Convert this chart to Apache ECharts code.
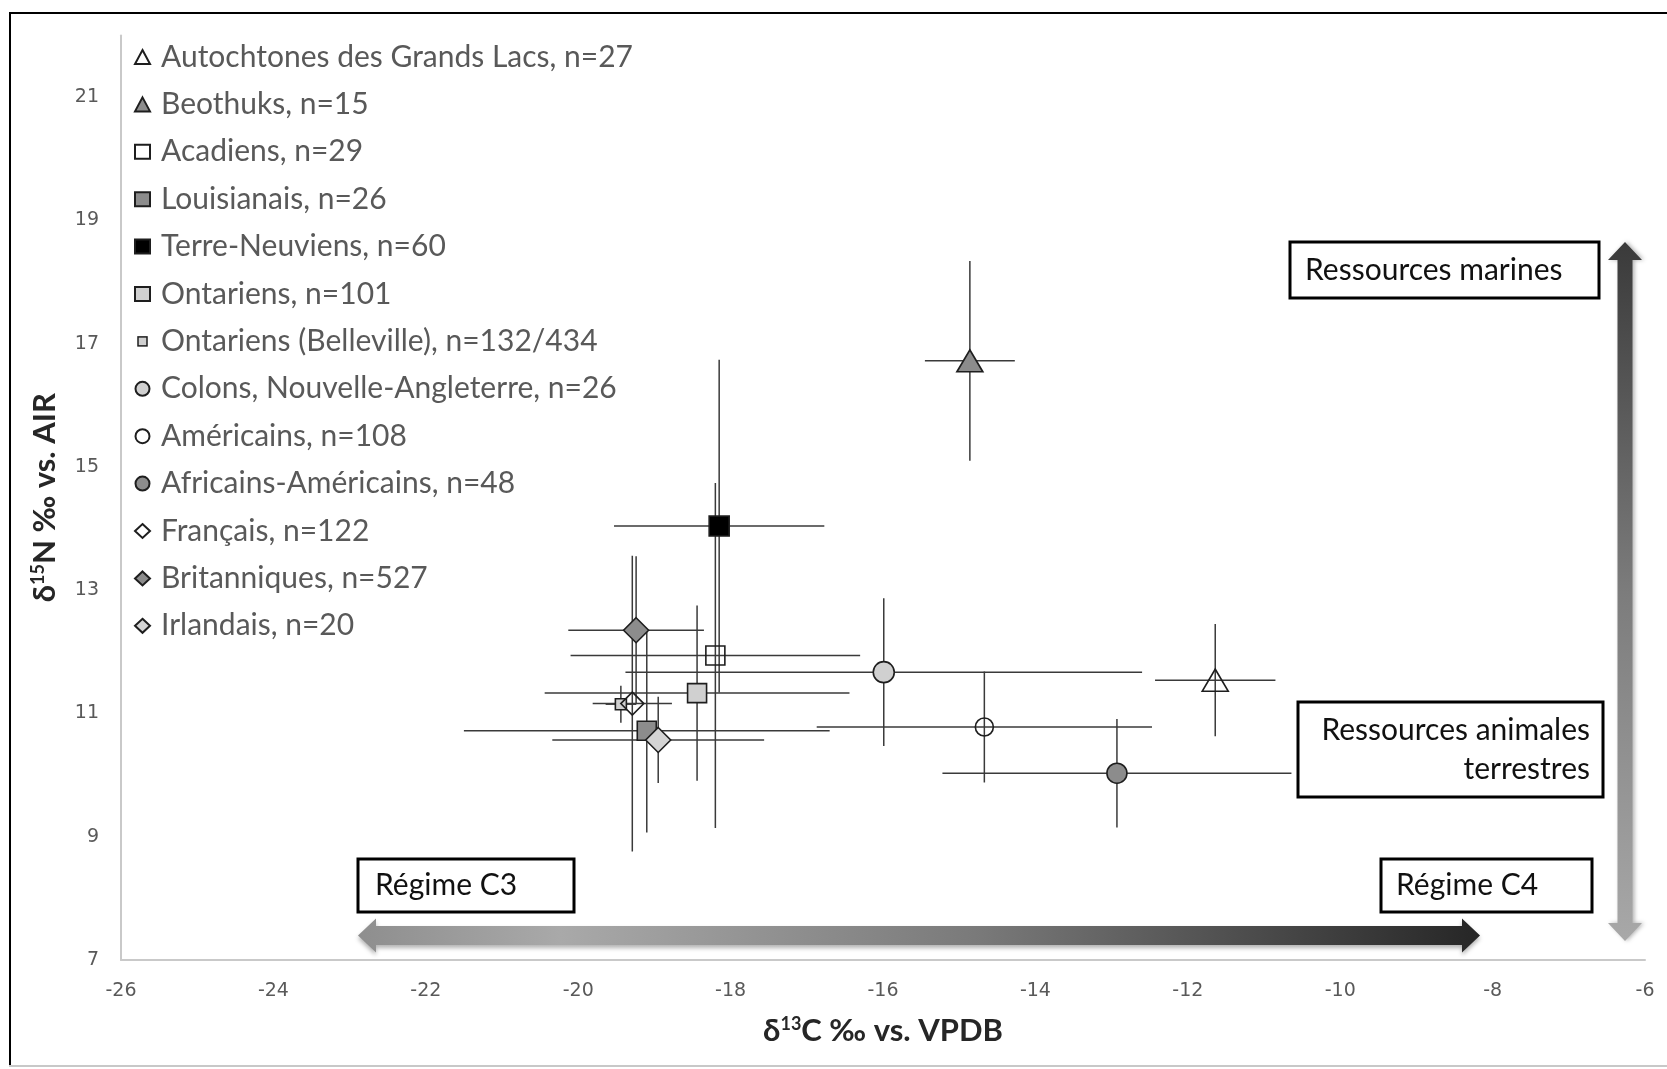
<!DOCTYPE html>
<html>
<head>
<meta charset="utf-8">
<script src="https://cdn.jsdelivr.net/npm/echarts@6/dist/echarts.min.js"></script>
<style>
  html, body { margin: 0; padding: 0; background: #fff; }
  #chart { width: 1667px; height: 1069px; }
</style>
</head>
<body>
<div id="chart"></div>
<script>
// Population groups (legend order)
const groups = [
  'Autochtones des Grands Lacs, n=27',
  'Beothuks, n=15',
  'Acadiens, n=29',
  'Louisianais, n=26',
  'Terre-Neuviens, n=60',
  'Ontariens, n=101',
  'Ontariens (Belleville), n=132/434',
  'Colons, Nouvelle-Angleterre, n=26',
  'Américains, n=108',
  'Africains-Américains, n=48',
  'Français, n=122',
  'Britanniques, n=527',
  'Irlandais, n=20'
];
// Mean δ13C (‰ vs. VPDB) and δ15N (‰ vs. AIR)
const d13C = [-11.64, -14.86, -18.20, -19.10, -18.15, -18.44, -19.44, -15.99, -14.67, -12.93, -19.29, -19.24, -18.95];
const d15N = [11.54, 16.72, 11.94, 10.72, 14.04, 11.33, 11.15, 11.67, 10.78, 10.03, 11.16, 12.35, 10.57];
// Standard deviations
const sdC = [0.79, 0.59, 1.90, 2.40, 1.38, 2.00, 0.20, 3.39, 2.20, 2.29, 0.52, 0.89, 1.39];
const sdN = [0.91, 1.62, 2.80, 1.65, 2.70, 1.42, 0.30, 1.20, 0.90, 0.88, 2.40, 1.20, 0.70];

// Axis ticks
const xTicks = { min: -26, max: -6, interval: 2 };
const yTicks = { min: 7, max: 22, interval: 2 };

// Marker look per group
const symbols = ['triangle', 'triangle', 'rect', 'rect', 'rect', 'rect', 'rect', 'circle', 'circle', 'circle', 'diamond', 'diamond', 'diamond'];
const sizes = [[26, 22], [26, 22], 19, 19, 20, 19, 11, 21, 18, 20, 23, 25, 25];
const NONE = 'rgba(255,255,255,0)';
const fills = [NONE, '#8c8c8c', NONE, '#8c8c8c', '#000000', '#d0d0d0', '#d0d0d0', '#d0d0d0', NONE, '#8c8c8c', NONE, '#8c8c8c', '#d4d4d4'];
const EDGE = '#1e1e1e';

const chart = echarts.init(document.getElementById('chart'), null, { renderer: 'canvas' });

const FONT = 'Lato';

const errorData = groups.map((g, i) => [d13C[i], d15N[i], sdC[i], sdN[i]]);

const series = [{
  type: 'custom',
  name: 'sd',
  silent: true,
  z: 2,
  data: errorData,
  encode: { x: 0, y: 1 },
  renderItem: function (params, api) {
    const x = api.value(0), y = api.value(1), sx = api.value(2), sy = api.value(3);
    const l = api.coord([x - sx, y]), r = api.coord([x + sx, y]);
    const t = api.coord([x, y + sy]), b = api.coord([x, y - sy]);
    const style = { stroke: '#3a3a3a', lineWidth: 1.5 };
    return {
      type: 'group',
      children: [
        { type: 'line', shape: { x1: l[0], y1: l[1], x2: r[0], y2: r[1] }, style: style },
        { type: 'line', shape: { x1: t[0], y1: t[1], x2: b[0], y2: b[1] }, style: style }
      ]
    };
  }
}];

groups.forEach((g, i) => {
  series.push({
    type: 'scatter',
    name: g,
    z: 3,
    symbol: symbols[i],
    symbolSize: sizes[i],
    data: [[d13C[i], d15N[i]]],
    itemStyle: { color: fills[i], borderColor: EDGE, borderWidth: 1.6, opacity: 1 },
    emphasis: { disabled: true }
  });
});

// Smaller legend key for the Belleville sample
const smallKey = 'image://data:image/svg+xml;utf8,' + encodeURIComponent(
  '<svg xmlns="http://www.w3.org/2000/svg" width="15" height="14" viewBox="0 0 15 14">' +
  '<rect x="3" y="2.5" width="9" height="9" fill="#d0d0d0" stroke="' + EDGE + '" stroke-width="1.5"/></svg>');
const legendData = groups.map((g, i) => i === 6 ? { name: g, icon: smallKey } : { name: g });

// Gradient double-headed arrows (drawn as polygons)
function hArrow(x1, x2, cy, shaftH, headH, headL) {
  return [
    [x1, cy], [x1 + headL, cy - headH / 2], [x1 + headL, cy - shaftH / 2],
    [x2 - headL, cy - shaftH / 2], [x2 - headL, cy - headH / 2], [x2, cy],
    [x2 - headL, cy + headH / 2], [x2 - headL, cy + shaftH / 2],
    [x1 + headL, cy + shaftH / 2], [x1 + headL, cy + headH / 2]
  ];
}
function vArrow(cx, y1, y2, shaftW, headW, headL) {
  return [
    [cx, y1], [cx + headW / 2, y1 + headL], [cx + shaftW / 2, y1 + headL],
    [cx + shaftW / 2, y2 - headL], [cx + headW / 2, y2 - headL], [cx, y2],
    [cx - headW / 2, y2 - headL], [cx - shaftW / 2, y2 - headL],
    [cx - shaftW / 2, y1 + headL], [cx - headW / 2, y1 + headL]
  ];
}

function box(x, y, w, h) {
  return { type: 'rect', shape: { x: x, y: y, width: w, height: h }, style: { fill: '#fff', stroke: '#000', lineWidth: 3 }, z: 10 };
}
function label(x, y, text, align) {
  return { type: 'text', x: x, y: y, style: { text: text, fill: '#111', font: '30px ' + FONT, align: align || 'left', verticalAlign: 'middle', lineHeight: 39 }, z: 11 };
}

const graphics = [
  // frame
  { type: 'line', shape: { x1: 10, y1: 12, x2: 10, y2: 1066 }, style: { stroke: '#000', lineWidth: 2 } },
  { type: 'line', shape: { x1: 9, y1: 13, x2: 1667, y2: 13 }, style: { stroke: '#000', lineWidth: 2 } },
  { type: 'line', shape: { x1: 9, y1: 1066, x2: 1667, y2: 1066 }, style: { stroke: '#c8c8c8', lineWidth: 2 } },
  // horizontal C3 / C4 arrow
  {
    type: 'polygon', z: 5,
    shape: { points: hArrow(358, 1480, 935.5, 19, 34, 18) },
    style: {
      fill: new echarts.graphic.LinearGradient(0, 0, 1, 0, [
        { offset: 0, color: '#8e8e8e' }, { offset: 0.18, color: '#a9a9a9' },
        { offset: 0.55, color: '#7a7a7a' }, { offset: 1, color: '#262626' }
      ]),
      shadowBlur: 4, shadowOffsetY: 3, shadowColor: 'rgba(0,0,0,0.3)'
    }
  },
  // vertical marine / terrestrial arrow
  {
    type: 'polygon', z: 5,
    shape: { points: vArrow(1625, 242, 941, 15, 34, 18) },
    style: {
      fill: new echarts.graphic.LinearGradient(0, 0, 0, 1, [
        { offset: 0, color: '#3a3a3a' }, { offset: 0.5, color: '#7c7c7c' }, { offset: 1, color: '#a8a8a8' }
      ]),
      shadowBlur: 4, shadowOffsetX: 2, shadowColor: 'rgba(0,0,0,0.3)'
    }
  },
  box(1290, 242, 309, 56), label(1305, 270, 'Ressources marines'),
  box(1298, 702, 305, 95), label(1590, 749.5, 'Ressources animales\nterrestres', 'right'),
  box(358, 859, 216, 53), label(375, 885.5, 'Régime C3'),
  box(1381, 859, 211, 53), label(1396, 885.5, 'Régime C4')
];

const titleRich = {
  t: { fontFamily: FONT, fontWeight: 'bold', fontSize: 31, color: '#262626' },
  s: { fontFamily: FONT, fontWeight: 'bold', fontSize: 18, color: '#262626', padding: [0, 0, 14, 0] }
};

const option = {
  animation: false,
  backgroundColor: '#fff',
  grid: { left: 121, right: 22, top: 35.4, bottom: 109, containLabel: false },
  legend: {
    orient: 'vertical',
    left: 134,
    top: 41,
    padding: 0,
    itemWidth: 15,
    itemHeight: 14,
    itemGap: 15.4,
    selectedMode: false,
    data: legendData,
    textStyle: { fontFamily: FONT, fontSize: 30, color: '#595959', lineHeight: 32, padding: [0, 0, 0, 6] }
  },
  xAxis: {
    type: 'value',
    min: xTicks.min, max: xTicks.max, interval: xTicks.interval,
    splitLine: { show: false },
    axisTick: { show: false },
    axisLine: { onZero: false, lineStyle: { color: '#c9c9c9', width: 2 } },
    axisLabel: { fontFamily: 'DejaVu Sans', fontSize: 19, color: '#595959', margin: 22 },
    name: '{t|δ}{s|13}{t|C ‰ vs. VPDB}',
    nameLocation: 'middle',
    nameGap: 55,
    nameTextStyle: { rich: titleRich }
  },
  yAxis: {
    type: 'value',
    min: yTicks.min, max: yTicks.max, interval: yTicks.interval,
    splitLine: { show: false },
    axisTick: { show: false },
    axisLine: { onZero: false, lineStyle: { color: '#c9c9c9', width: 2 } },
    axisLabel: { fontFamily: 'DejaVu Sans', fontSize: 19, color: '#595959', margin: 22,
      formatter: function (v) { return v === 22 ? '' : v; } },
    name: '{t|δ}{s|15}{t|N ‰ vs. AIR}',
    nameLocation: 'middle',
    nameGap: 60,
    nameTextStyle: { rich: titleRich }
  },
  graphic: graphics,
  series: series
};

chart.setOption(option);
</script>
</body>
</html>
